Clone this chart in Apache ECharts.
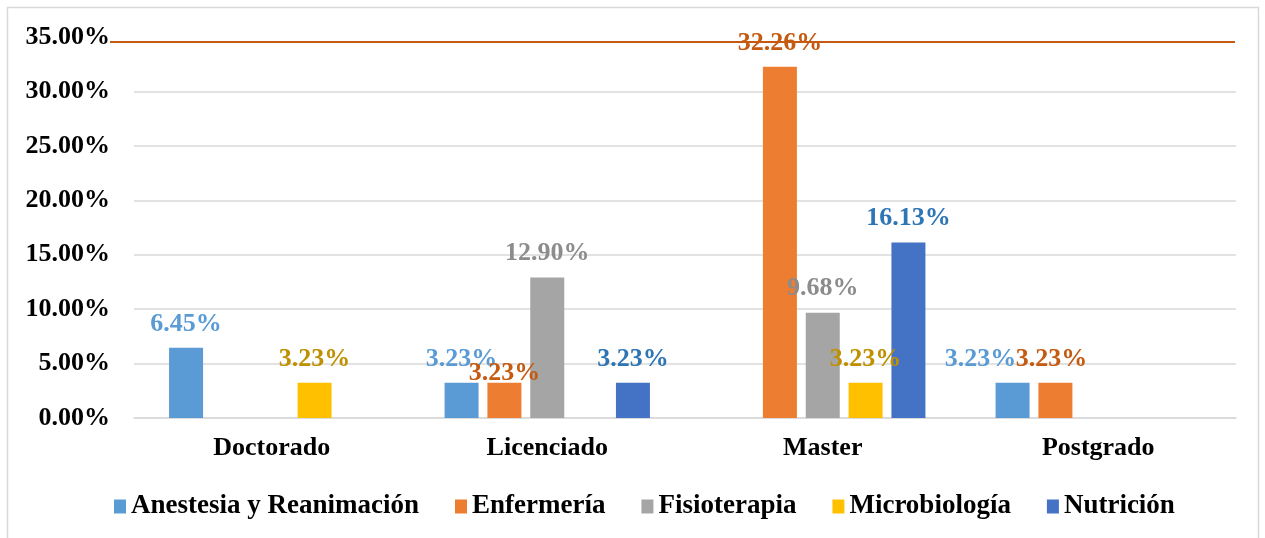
<!DOCTYPE html>
<html>
<head>
<meta charset="utf-8">
<script src="https://cdn.jsdelivr.net/npm/echarts@6/dist/echarts.min.js"></script>
<style>
  html, body { margin: 0; padding: 0; background: #fff; }
  #chart { width: 1265px; height: 538px; }
</style>
</head>
<body>
<div id="chart"></div>
<script>
const categories = ["Doctorado", "Licenciado", "Master", "Postgrado"];
const seriesNames = ["Anestesia y Reanimación", "Enfermería", "Fisioterapia", "Microbiología", "Nutrición"];
const anestesia = [6.45, 3.23, null, 3.23];
const enfermeria = [null, 3.23, 32.26, 3.23];
const fisioterapia = [null, 12.90, 9.68, null];
const microbiologia = [3.23, null, 3.23, null];
const nutricion = [null, 3.23, 16.13, null];
const yTicks = [0, 5, 10, 15, 20, 25, 30, 35];

const values = [anestesia, enfermeria, fisioterapia, microbiologia, nutricion];
const barColors = ["#5B9BD5", "#ED7D31", "#A5A5A5", "#FFC000", "#4472C4"];
const labelColors = ["#5B9BD5", "#C55A11", "#8C8C8C", "#BF9000", "#2E75B6"];
const font = "Liberation Serif";

// a few labels were nudged by hand in the original
const labelShift = { "1-1": [0, 14], "0-3": [-32, 0], "1-3": [-4, 0] };

const chart = echarts.init(document.getElementById("chart"));

const series = values.map((vals, i) => ({
  name: seriesNames[i],
  type: "bar",
  barWidth: 34,
  barGap: "26%",
  itemStyle: { color: barColors[i] },
  label: {
    show: true,
    position: "top",
    distance: 11,
    color: labelColors[i],
    fontFamily: font,
    fontWeight: "bold",
    fontSize: 26,
    formatter: p => p.value.toFixed(2) + "%"
  },
  data: vals.map((v, j) => {
    if (v === null) return "-";
    const shift = labelShift[i + "-" + j];
    if (shift) return { value: v, label: { offset: shift } };
    return v;
  })
}));

// top gridline is not drawn; a separate rule sits just below it
const gridColors = yTicks.map((t, i) => (i === yTicks.length - 1 ? "rgba(0,0,0,0)" : "#D9D9D9"));

chart.setOption({
  animation: false,
  grid: { left: 134, right: 29, top: 37, bottom: 120 },
  legend: {
    data: seriesNames,
    left: 109,
    top: 488,
    itemWidth: 12,
    itemHeight: 14,
    itemGap: 36,
    icon: "rect",
    textStyle: { fontFamily: font, fontWeight: "bold", fontSize: 27, color: "#000" }
  },
  xAxis: {
    type: "category",
    data: categories,
    axisLine: { show: true, lineStyle: { color: "#D9D9D9", width: 1.5 } },
    axisTick: { show: false },
    axisLabel: { margin: 17, fontFamily: font, fontWeight: "bold", fontSize: 26, color: "#000" }
  },
  yAxis: {
    type: "value",
    min: 0,
    max: 35,
    interval: 5,
    axisLine: { show: false },
    axisTick: { show: false },
    splitLine: { show: true, lineStyle: { color: gridColors, width: 1.5 } },
    axisLabel: {
      margin: 24,
      fontFamily: font,
      fontWeight: "bold",
      fontSize: 26,
      color: "#000",
      formatter: v => v.toFixed(2) + "%"
    }
  },
  series: series,
  graphic: [
    {
      type: "rect",
      shape: { x: 7.5, y: 7.5, width: 1251, height: 540 },
      style: { fill: "none", stroke: "#D9D9D9", lineWidth: 1.5 },
      silent: true
    },
    {
      type: "line",
      shape: { x1: 110, y1: 42, x2: 1235, y2: 42 },
      style: { stroke: "#C55A11", lineWidth: 2 },
      silent: true,
      z: 100
    }
  ]
});
</script>
</body>
</html>
